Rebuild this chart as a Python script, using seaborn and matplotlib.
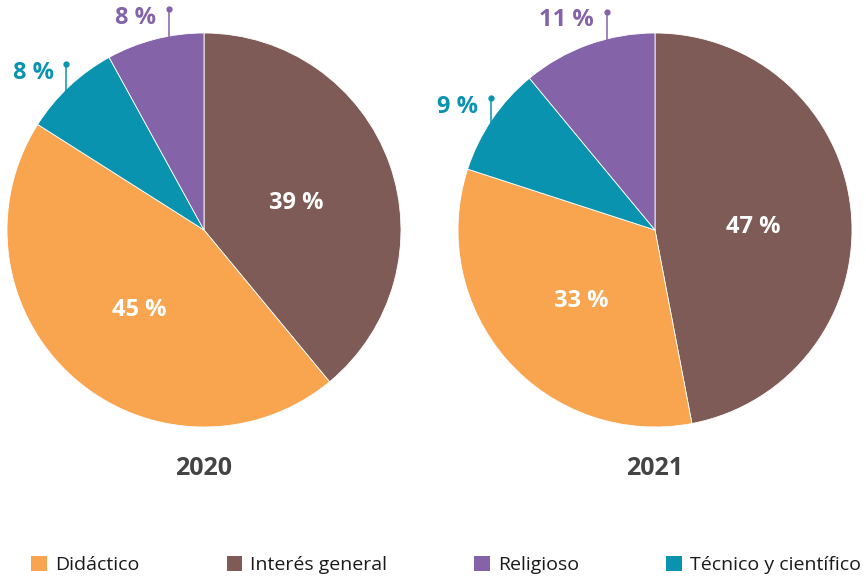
import numpy as np
import matplotlib.pyplot as plt
import seaborn as sns
from matplotlib.patches import Patch

# data
categories = ['Didáctico', 'Interés general', 'Religioso', 'Técnico y científico']
years = ['2020', '2021']
shares_2020 = [45, 39, 8, 8]
shares_2021 = [33, 47, 11, 9]

palette = ['#F9A54F', '#7F5B58', '#8463A8', '#0A93AF']
# clockwise from 12 o'clock, as in the original
draw_order = ['Interés general', 'Didáctico', 'Técnico y científico', 'Religioso']
# small slices get an outside label on a pin; value = where along the wedge
pinned = {'Técnico y científico': 0.4, 'Religioso': 0.63}


def draw_pie(ax, shares, year):
    vals = dict(zip(categories, shares))
    cols = dict(zip(categories, palette))
    wedges, _ = ax.pie(
        [vals[c] for c in draw_order],
        colors=[cols[c] for c in draw_order],
        startangle=90, counterclock=False,
        wedgeprops=dict(edgecolor='white', linewidth=0.6))
    ax.set_xlim(-1, 1)
    ax.set_ylim(-1, 1)

    for w, cat in zip(wedges, draw_order):
        label = f'{vals[cat]} %'
        if cat in pinned:
            f = pinned[cat]
            ang = np.deg2rad(w.theta2 + (w.theta1 - w.theta2) * f)
            x0, y0 = 0.97 * np.cos(ang), 0.97 * np.sin(ang)
            y1 = y0 + 0.17
            ax.plot([x0, x0], [y0, y1], color=cols[cat], lw=1.1, clip_on=False)
            ax.plot(x0, y1, 'o', color=cols[cat], ms=3.5, clip_on=False)
            ax.text(x0 - 0.065, y1 - 0.045, label, color=cols[cat],
                    fontsize=17, fontweight='bold', ha='right', va='center')
        else:
            ang = np.deg2rad((w.theta1 + w.theta2) / 2)
            ax.text(0.5 * np.cos(ang), 0.5 * np.sin(ang) - 0.03, label,
                    color='white', fontsize=17, fontweight='bold',
                    ha='center', va='center')

    ax.text(0, -1.21, year, color='#444444', fontsize=18, fontweight='bold',
            ha='center', va='center')


sns.set_theme(style='white')
plt.rcParams['font.family'] = ['Open Sans', 'DejaVu Sans']

W, H = 866, 578
fig = plt.figure(figsize=(W / 100, H / 100), dpi=100)

centers = [204, 655]
r = 197
cy = 230
for cx, shares, year in zip(centers, [shares_2020, shares_2021], years):
    ax = fig.add_axes([(cx - r) / W, (H - cy - r) / H, 2 * r / W, 2 * r / H])
    draw_pie(ax, shares, year)

handles = [Patch(facecolor=c, edgecolor='none') for c in palette]
fig.legend(handles, categories, loc='center', bbox_to_anchor=(446 / W, 1 - 565 / H),
           ncol=4, frameon=False, fontsize=14, handlelength=0.8, handleheight=0.8,
           handletextpad=0.4, columnspacing=4.5, labelcolor='#1a1a1a')

fig.savefig('out.png', dpi=100)
